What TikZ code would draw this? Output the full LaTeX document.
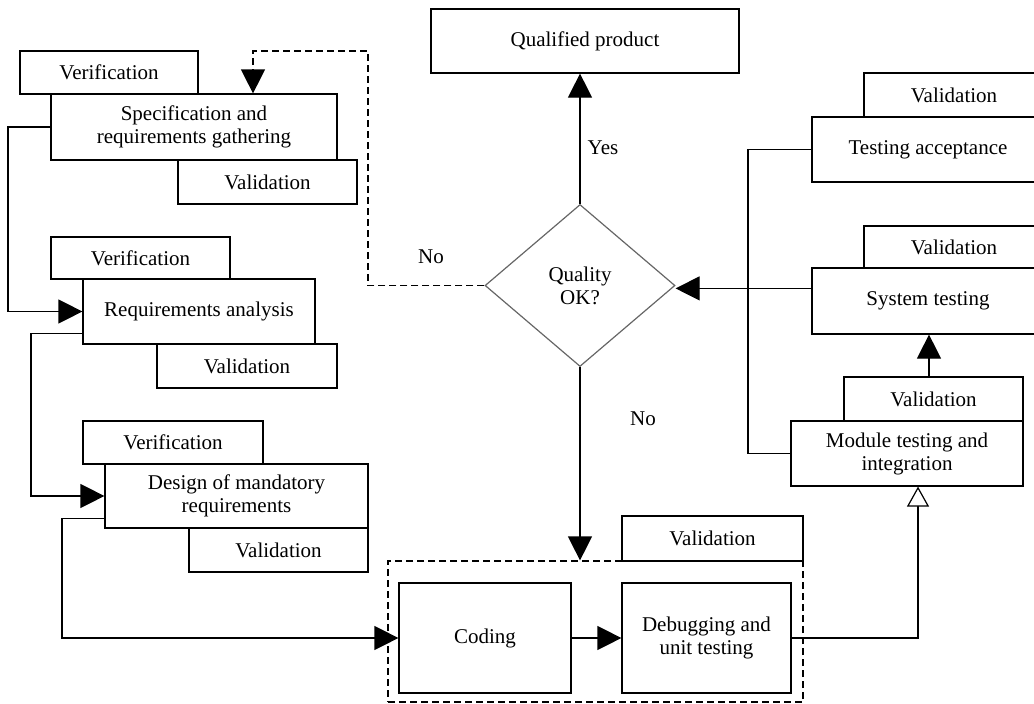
\documentclass[tikz,border=0pt]{standalone}
\usepackage{fontspec}
\setmainfont{Liberation Serif}
\usetikzlibrary{shapes.geometric,arrows.meta,calc}
\begin{document}
\begin{tikzpicture}[x=1pt,y=-1pt,
  txt/.style={font=\fontsize{21}{23}\selectfont},
  box/.style={draw, fill=white, line width=1.2pt, inner sep=0pt, align=center, txt},
  lbl/.style={inner sep=0pt, txt},
  link/.style={line width=1.2pt},
  flow/.style={link, -{Triangle[length=24pt,width=24pt]}},
  hollow/.style={link, -{Triangle[open,fill=white,length=20pt,width=22pt]}},
  dashline/.style={line width=1.2pt, dash pattern=on 7pt off 4pt},
  dflow/.style={dashline, -{Triangle[length=24pt,width=24pt]}},
  decision/.style={diamond, draw=black!60, line width=1.2pt, inner sep=0pt, align=center, txt}
]
\clip (0,0) rectangle (1034,704);

% dashed frame around coding and unit testing
\node[dashline, draw, minimum width=415pt, minimum height=141pt, inner sep=0pt] (dbox) at (595.5,631.5) {};

% left column: specification phases
\node[box, minimum width=178pt, minimum height=43pt] (ver1) at (109,72.5) {Verification};
\node[box, minimum width=286pt, minimum height=66pt] (spec) at (194,127) {Specification and\\requirements gathering};
\node[box, minimum width=179pt, minimum height=44pt] (val1) at (267.5,182) {Validation};

\node[box, minimum width=179pt, minimum height=42pt] (ver2) at (140.5,258) {Verification};
\node[box, minimum width=232pt, minimum height=65pt] (req) at (199,311.5) {Requirements analysis};
\node[box, minimum width=180pt, minimum height=44pt] (val2) at (247,366) {Validation};

\node[box, minimum width=180pt, minimum height=43pt] (ver3) at (173,442.5) {Verification};
\node[box, minimum width=263pt, minimum height=64pt] (design) at (236.5,496) {Design of mandatory\\requirements};
\node[box, minimum width=179pt, minimum height=44pt] (val3) at (278.5,550) {Validation};

% centre: decision and result
\node[box, minimum width=308pt, minimum height=64pt] (qp) at (585,41) {Qualified product};
\node[decision, minimum width=190pt, minimum height=162pt] (dia) at (580,285.5) {Quality\\OK?};

% bottom: implementation
\node[box, minimum width=181pt, minimum height=45pt] (valc) at (712.5,538.5) {Validation};
\node[box, minimum width=172pt, minimum height=110pt] (coding) at (485,638) {Coding};
\node[box, minimum width=169pt, minimum height=110pt] (debug) at (706.5,638) {Debugging and\\unit testing};

% right column: testing phases
\node[box, minimum width=180pt, minimum height=44pt] (valA) at (954,95) {Validation};
\node[box, minimum width=232pt, minimum height=65pt] (accept) at (928,149.5) {Testing acceptance};
\node[box, minimum width=180pt, minimum height=42pt] (valB) at (954,247) {Validation};
\node[box, minimum width=232pt, minimum height=66pt] (system) at (928,301) {System testing};
\node[box, minimum width=179pt, minimum height=44pt] (valM) at (933.5,399) {Validation};
\node[box, minimum width=232pt, minimum height=65pt] (module) at (907,453.5) {Module testing and\\integration};

% labels
\node[lbl] (yes) at (603,148) {Yes};
\node[lbl] (no1) at (431,257) {No};
\node[lbl] (no2) at (643,419) {No};

% helper coordinates for routing
\coordinate (l1) at (8,0);
\coordinate (l2) at (31,0);
\coordinate (l3) at (62,0);
\coordinate (r0) at ($(req.south west)+(0,-11)$);
\coordinate (d0) at ($(design.south west)+(0,-10)$);
\coordinate (m0) at (918,0);
\coordinate (s0) at (929,0);
\coordinate (a0) at (748,0);
\coordinate (s1) at ($(system.north west)+(0,21)$);
\coordinate (n0) at (368,51);
\coordinate (n1) at (253,0);

% connectors
\draw[flow] (spec.west) -- (spec.west -| l1) |- (req.west);
\draw[flow] (r0) -- (r0 -| l2) |- (design.west);
\draw[flow] (d0) -- (d0 -| l3) |- (coding.west);
\draw[flow] (coding.east) -- (debug.west);
\draw[hollow] (debug.east) -| (m0 |- module.south);
\draw[flow] (s0 |- valM.north) -- (s0 |- system.south);
\draw[link] (accept.west) -- (accept.west -| a0) |- (module.west);
\draw[flow] (s1) -- (s1 -| dia.east);
\draw[flow] (dia.north) -- (dia.north |- qp.south);
\draw[flow] (dia.south) -- (dia.south |- dbox.north);
\draw[dflow] (dia.west) -- (dia.west -| n0) -- (n0) -- (n0 -| n1) -- (n1 |- spec.north);
\end{tikzpicture}
\end{document}
